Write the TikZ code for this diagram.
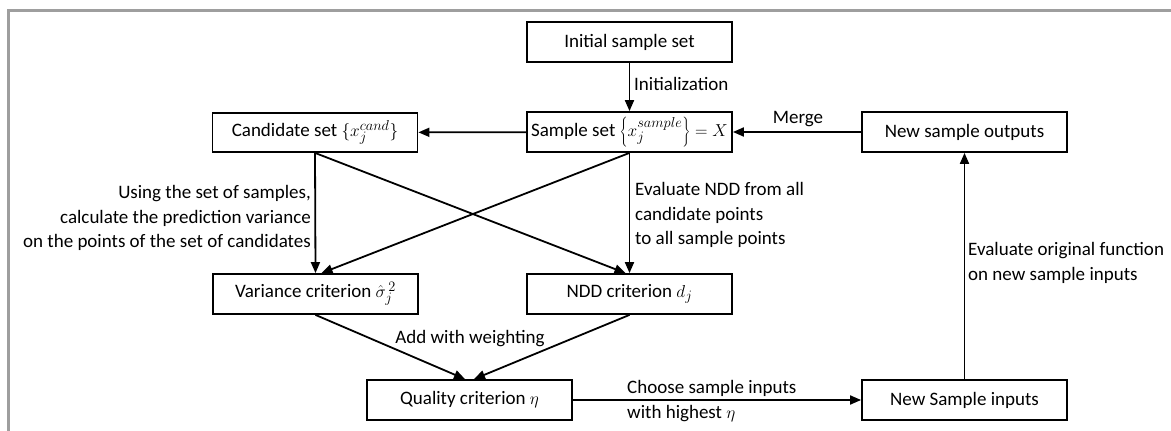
\documentclass[tikz,border=0pt]{standalone}
\usepackage{fontspec}
\setmainfont{Carlito}
\usetikzlibrary{arrows.meta}
\tikzset{
  x=1pt, y=-1pt,
  every node/.style={font=\fontsize{19}{24.5}\selectfont},
  block/.style={draw=black, line width=1.8pt, minimum width=205pt, minimum height=40pt, inner sep=0pt, fill=white},
  lbl/.style={inner sep=0pt},
  arr/.style={line width=1.8pt, -{Triangle[length=11pt,width=9pt]}},
  frame/.style={draw=black!38, line width=3pt}
}
\begin{document}
\begin{tikzpicture}
\useasboundingbox (0,0) rectangle (1171,431);
% outer frame (top and left edges)
\draw[frame] (1171,10.5) -- (8.5,10.5) -- (8.5,431);

% blocks
\node[block] (init)  at (629.5,42)  {Initial sample set};
\node[block] (samp)  at (629.5,132) {Sample set $\left\{x_j^{sample}\right\} = X$};
\node[block, minimum height=39pt] (cand)  at (315,132.5) {Candidate set $\{x_j^{cand}\}$};
\node[block] (outs)  at (964.5,132) {New sample outputs};
\node[block] (var)   at (315.5,294) {Variance criterion $\hat{\sigma}_j^{\,2}$};
\node[block] (ndd)   at (629.5,294) {NDD criterion $d_j$};
\node[block] (qual)  at (469.5,400) {Quality criterion $\eta$};
\node[block] (ins)   at (964.5,400) {New Sample inputs};

% connectors
\draw[arr] (init) -- (samp);
\draw[arr] (samp) -- (cand);
\draw[arr] (outs) -- (samp);
\draw[arr] (cand.south) -- (var.north);
\draw[arr] (cand.south) -- ([xshift=-4pt]ndd.north);
\draw[arr] (samp.south) -- ([xshift=6pt]var.north);
\draw[arr] (samp.south) -- (ndd.north);
\draw[arr] (var.south) -- ([xshift=-4.5pt]qual.north);
\draw[arr] (ndd.south) -- ([xshift=4.5pt]qual.north);
\draw[arr] (qual) -- (ins);
\draw[arr] (ins) -- (outs);

% connector labels
\node[lbl, anchor=west] (linit) at (634,84) {Initialization};
\node[lbl] (lmerge) at (798,119) {Merge};
\node[lbl, anchor=east, align=right] (lvar) at (311,218)
  {Using the set of samples,\\calculate the prediction variance\\on the points of the set of candidates};
\node[lbl, anchor=west, align=left] (lndd) at (635,215)
  {Evaluate NDD from all\\candidate points\\to all sample points};
\node[lbl, anchor=west, align=left] (leval) at (968,263)
  {Evaluate original function\\on new sample inputs};
\node[lbl] (ladd) at (470,339) {Add with weighting};
\node[lbl, anchor=west, align=left] (lchoose) at (627,401)
  {Choose sample inputs\\with highest $\eta$};
\end{tikzpicture}
\end{document}
